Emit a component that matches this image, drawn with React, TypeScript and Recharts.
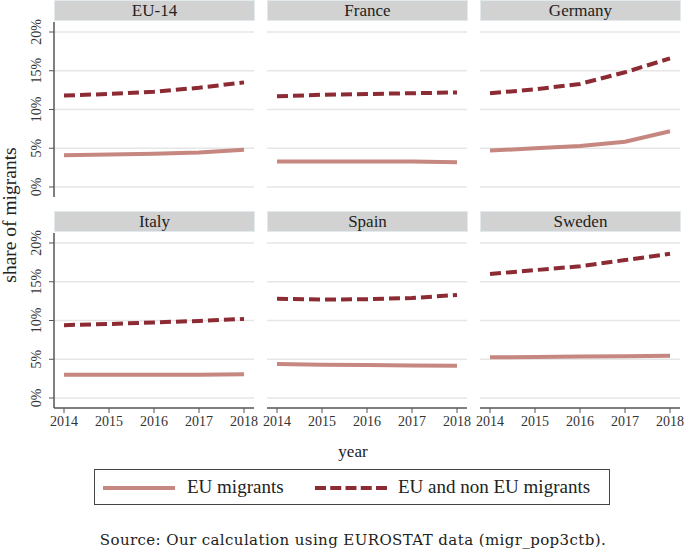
import React from "react";
import { LineChart, Line, XAxis, YAxis, CartesianGrid } from "recharts";

const years = [2014, 2015, 2016, 2017, 2018];
const yTicks = [0, 5, 10, 15, 20];
const panelNames = ["EU-14", "France", "Germany", "Italy", "Spain", "Sweden"];

// share of migrants, % of population
const eu14Eu = [4.1, 4.2, 4.3, 4.45, 4.8];
const eu14All = [11.8, 12.0, 12.3, 12.8, 13.5];
const franceEu = [3.3, 3.3, 3.3, 3.3, 3.2];
const franceAll = [11.7, 11.9, 12.0, 12.1, 12.2];
const germanyEu = [4.7, 5.0, 5.3, 5.85, 7.2];
const germanyAll = [12.1, 12.6, 13.3, 14.8, 16.6];
const italyEu = [3.0, 3.0, 3.0, 3.0, 3.05];
const italyAll = [9.4, 9.55, 9.75, 9.95, 10.2];
const spainEu = [4.4, 4.3, 4.25, 4.2, 4.15];
const spainAll = [12.8, 12.7, 12.75, 12.9, 13.3];
const swedenEu = [5.25, 5.3, 5.35, 5.4, 5.45];
const swedenAll = [16.0, 16.5, 17.0, 17.8, 18.6];

const euSeries = [eu14Eu, franceEu, germanyEu, italyEu, spainEu, swedenEu];
const allSeries = [eu14All, franceAll, germanyAll, italyAll, spainAll, swedenAll];

const FONT = '"Liberation Serif", "DejaVu Serif", serif';
const EU_COLOR = "#c5877f";
const ALL_COLOR = "#8d2b34";
const AXIS = "#555";
const TEXT = "#333";

const colLeft = [54, 267, 480];
const rowTop = [0, 211];
const PW = 200;
const STRIP = 22;
const PH = 175;
// extra room around each plot so edge tick labels are not clipped
const MX = 20;
const MT = 14;

function YTick(props: any) {
  const { x, y, payload } = props;
  const tx = x - 6;
  return (
    <text
      x={tx}
      y={y}
      transform={`rotate(-90 ${tx} ${y})`}
      textAnchor="middle"
      fontSize={14}
      fill={TEXT}
      fontFamily={FONT}
    >
      {payload.value}%
    </text>
  );
}

function Panel({ idx }: { idx: number }) {
  const col = idx % 3;
  const row = Math.floor(idx / 3);
  const showY = col === 0;
  const showX = row === 1;
  const data = years.map((yr, i) => ({
    year: yr,
    eu: euSeries[idx][i],
    all: allSeries[idx][i],
  }));
  const yw = showY ? 54 : 0;
  const left = colLeft[col] - yw - MX;
  const top = rowTop[row] + STRIP - MT;
  return (
    <>
      <div style={{ position: "absolute", left, top }}>
        <LineChart
          width={PW + yw + 2 * MX}
          height={PH + MT + (showX ? 30 : 0)}
          data={data}
          margin={{ top: MT, right: MX, bottom: 0, left: MX }}
        >
          <CartesianGrid
            vertical={false}
            horizontalValues={yTicks}
            stroke="#e6e6e6"
            strokeWidth={1.5}
          />
          <XAxis
            dataKey="year"
            type="number"
            domain={[2014, 2018]}
            ticks={years}
            interval={0}
            padding={{ left: 10, right: 10 }}
            hide={!showX}
            height={30}
            tickSize={5}
            tickMargin={3}
            axisLine={{ stroke: AXIS, strokeWidth: 1.5 }}
            tickLine={{ stroke: AXIS }}
            tick={{ fontSize: 14, fill: TEXT, fontFamily: FONT }}
          />
          <YAxis
            domain={[0, 20]}
            ticks={yTicks}
            interval={0}
            padding={{ top: 10, bottom: 10 }}
            hide={!showY}
            width={54}
            tickSize={5}
            axisLine={{ stroke: AXIS, strokeWidth: 1.5 }}
            tickLine={{ stroke: AXIS }}
            tick={<YTick />}
          />
          <Line
            dataKey="eu"
            type="linear"
            stroke={EU_COLOR}
            strokeWidth={4}
            dot={false}
            isAnimationActive={false}
          />
          <Line
            dataKey="all"
            type="linear"
            stroke={ALL_COLOR}
            strokeWidth={4}
            strokeDasharray="11 5"
            dot={false}
            isAnimationActive={false}
          />
        </LineChart>
      </div>
      <div
        style={{
          position: "absolute",
          left: colLeft[col],
          top: rowTop[row],
          width: PW + 1,
          height: STRIP - 1,
          background: "#d2d2d2",
          border: "1px solid #e2eaee",
          boxSizing: "border-box",
          textAlign: "center",
          fontFamily: FONT,
          fontSize: 17,
          lineHeight: "19px",
          color: "#222",
        }}
      >
        {panelNames[idx]}
      </div>
    </>
  );
}

export default function App() {
  return (
    <div
      style={{
        position: "absolute",
        left: 0,
        top: 0,
        width: 685,
        height: 554,
        background: "#fff",
        fontFamily: FONT,
        overflow: "hidden",
      }}
    >
      {panelNames.map((_, i) => (
        <Panel key={i} idx={i} />
      ))}
      <div
        style={{
          position: "absolute",
          left: 10,
          top: 215,
          transform: "translate(-50%, -50%) rotate(-90deg)",
          whiteSpace: "nowrap",
          fontSize: 19.5,
          color: "#222",
        }}
      >
        share of migrants
      </div>
      <div
        style={{
          position: "absolute",
          left: 353,
          top: 452,
          transform: "translate(-50%, -50%)",
          fontSize: 17,
          color: "#222",
        }}
      >
        year
      </div>
      <div
        style={{
          position: "absolute",
          left: 94,
          top: 469,
          width: 516,
          height: 36,
          border: "1px solid #444",
          boxSizing: "border-box",
          fontSize: 19,
          color: "#222",
        }}
      >
        <svg
          width={516}
          height={34}
          style={{ position: "absolute", left: -1, top: 0 }}
        >
          <line x1={9} y1={18} x2={81} y2={18} stroke={EU_COLOR} strokeWidth={4} />
          <line
            x1={221}
            y1={18}
            x2={293}
            y2={18}
            stroke={ALL_COLOR}
            strokeWidth={4}
            strokeDasharray="11 4.25"
          />
        </svg>
        <span style={{ position: "absolute", left: 92, top: 6 }}>EU migrants</span>
        <span style={{ position: "absolute", left: 303, top: 6 }}>
          EU and non EU migrants
        </span>
      </div>
      <div
        style={{
          position: "absolute",
          left: 353,
          top: 540,
          transform: "translate(-50%, -50%)",
          whiteSpace: "nowrap",
          fontSize: 15,
          letterSpacing: 0.4,
          fontFamily: '"DejaVu Serif", serif',
          color: "#222",
        }}
      >
        Source: Our calculation using EUROSTAT data (migr_pop3ctb).
      </div>
    </div>
  );
}
